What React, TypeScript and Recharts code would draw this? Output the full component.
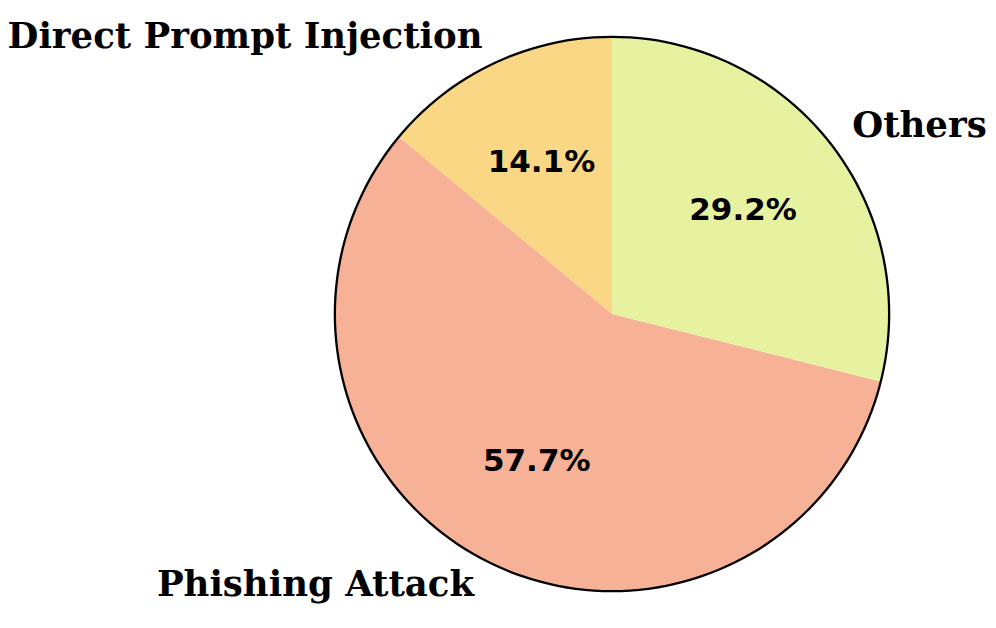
import { Pie, PieChart } from "recharts";

const NAMES = ["Direct Prompt Injection", "Phishing Attack", "Others"];
const SHARES = [14.1, 57.7, 29.2];
const COLORS = ["#fad784", "#f7b197", "#e7f2a0"];

const data = NAMES.map((name, i) => ({ name, value: SHARES[i], fill: COLORS[i] }));
const ring = [{ name: "ring", value: 1 }];

const RAD = Math.PI / 180;
const SERIF = "'DejaVu Serif', serif";
const SANS = "'DejaVu Sans', sans-serif";

function SliceLabel(props: any) {
  const { cx, cy, midAngle, outerRadius, name, value } = props;
  const c = Math.cos(-midAngle * RAD);
  const s = Math.sin(-midAngle * RAD);
  const ox = cx + outerRadius * 1.1 * c;
  const oy = cy + outerRadius * 1.1 * s;
  const ix = cx + outerRadius * 0.6 * c;
  const iy = cy + outerRadius * 0.6 * s;
  return (
    <g>
      <text
        x={ox}
        y={oy - 2.5}
        textAnchor={ox > cx ? "start" : "end"}
        dominantBaseline="central"
        fontFamily={SERIF}
        fontWeight="bold"
        fontSize={35.5}
        fill="#000"
      >
        {name}
      </text>
      <text
        x={ix}
        y={iy - 2.5}
        textAnchor="middle"
        dominantBaseline="central"
        fontFamily={SANS}
        fontWeight="bold"
        fontSize={31}
        fill="#000"
      >
        {value.toFixed(1)}%
      </text>
    </g>
  );
}

export default function App() {
  return (
    <div style={{ position: "absolute", left: 0, top: 0, width: 996, height: 628, background: "#fff" }}>
      <PieChart width={996} height={628} margin={{ top: 0, right: 0, bottom: 0, left: 0 }}>
        <Pie
          data={data}
          dataKey="value"
          nameKey="name"
          cx={612}
          cy={314}
          outerRadius={277}
          startAngle={90}
          endAngle={450}
          stroke="none"
          label={SliceLabel}
          labelLine={false}
          isAnimationActive={false}
        />
        {/* outline: thin black annulus so there's no radial seam */}
        <Pie
          data={ring}
          dataKey="value"
          cx={612}
          cy={314}
          innerRadius={276}
          outerRadius={278.3}
          startAngle={90}
          endAngle={450}
          fill="#000"
          stroke="none"
          isAnimationActive={false}
        />
      </PieChart>
    </div>
  );
}
